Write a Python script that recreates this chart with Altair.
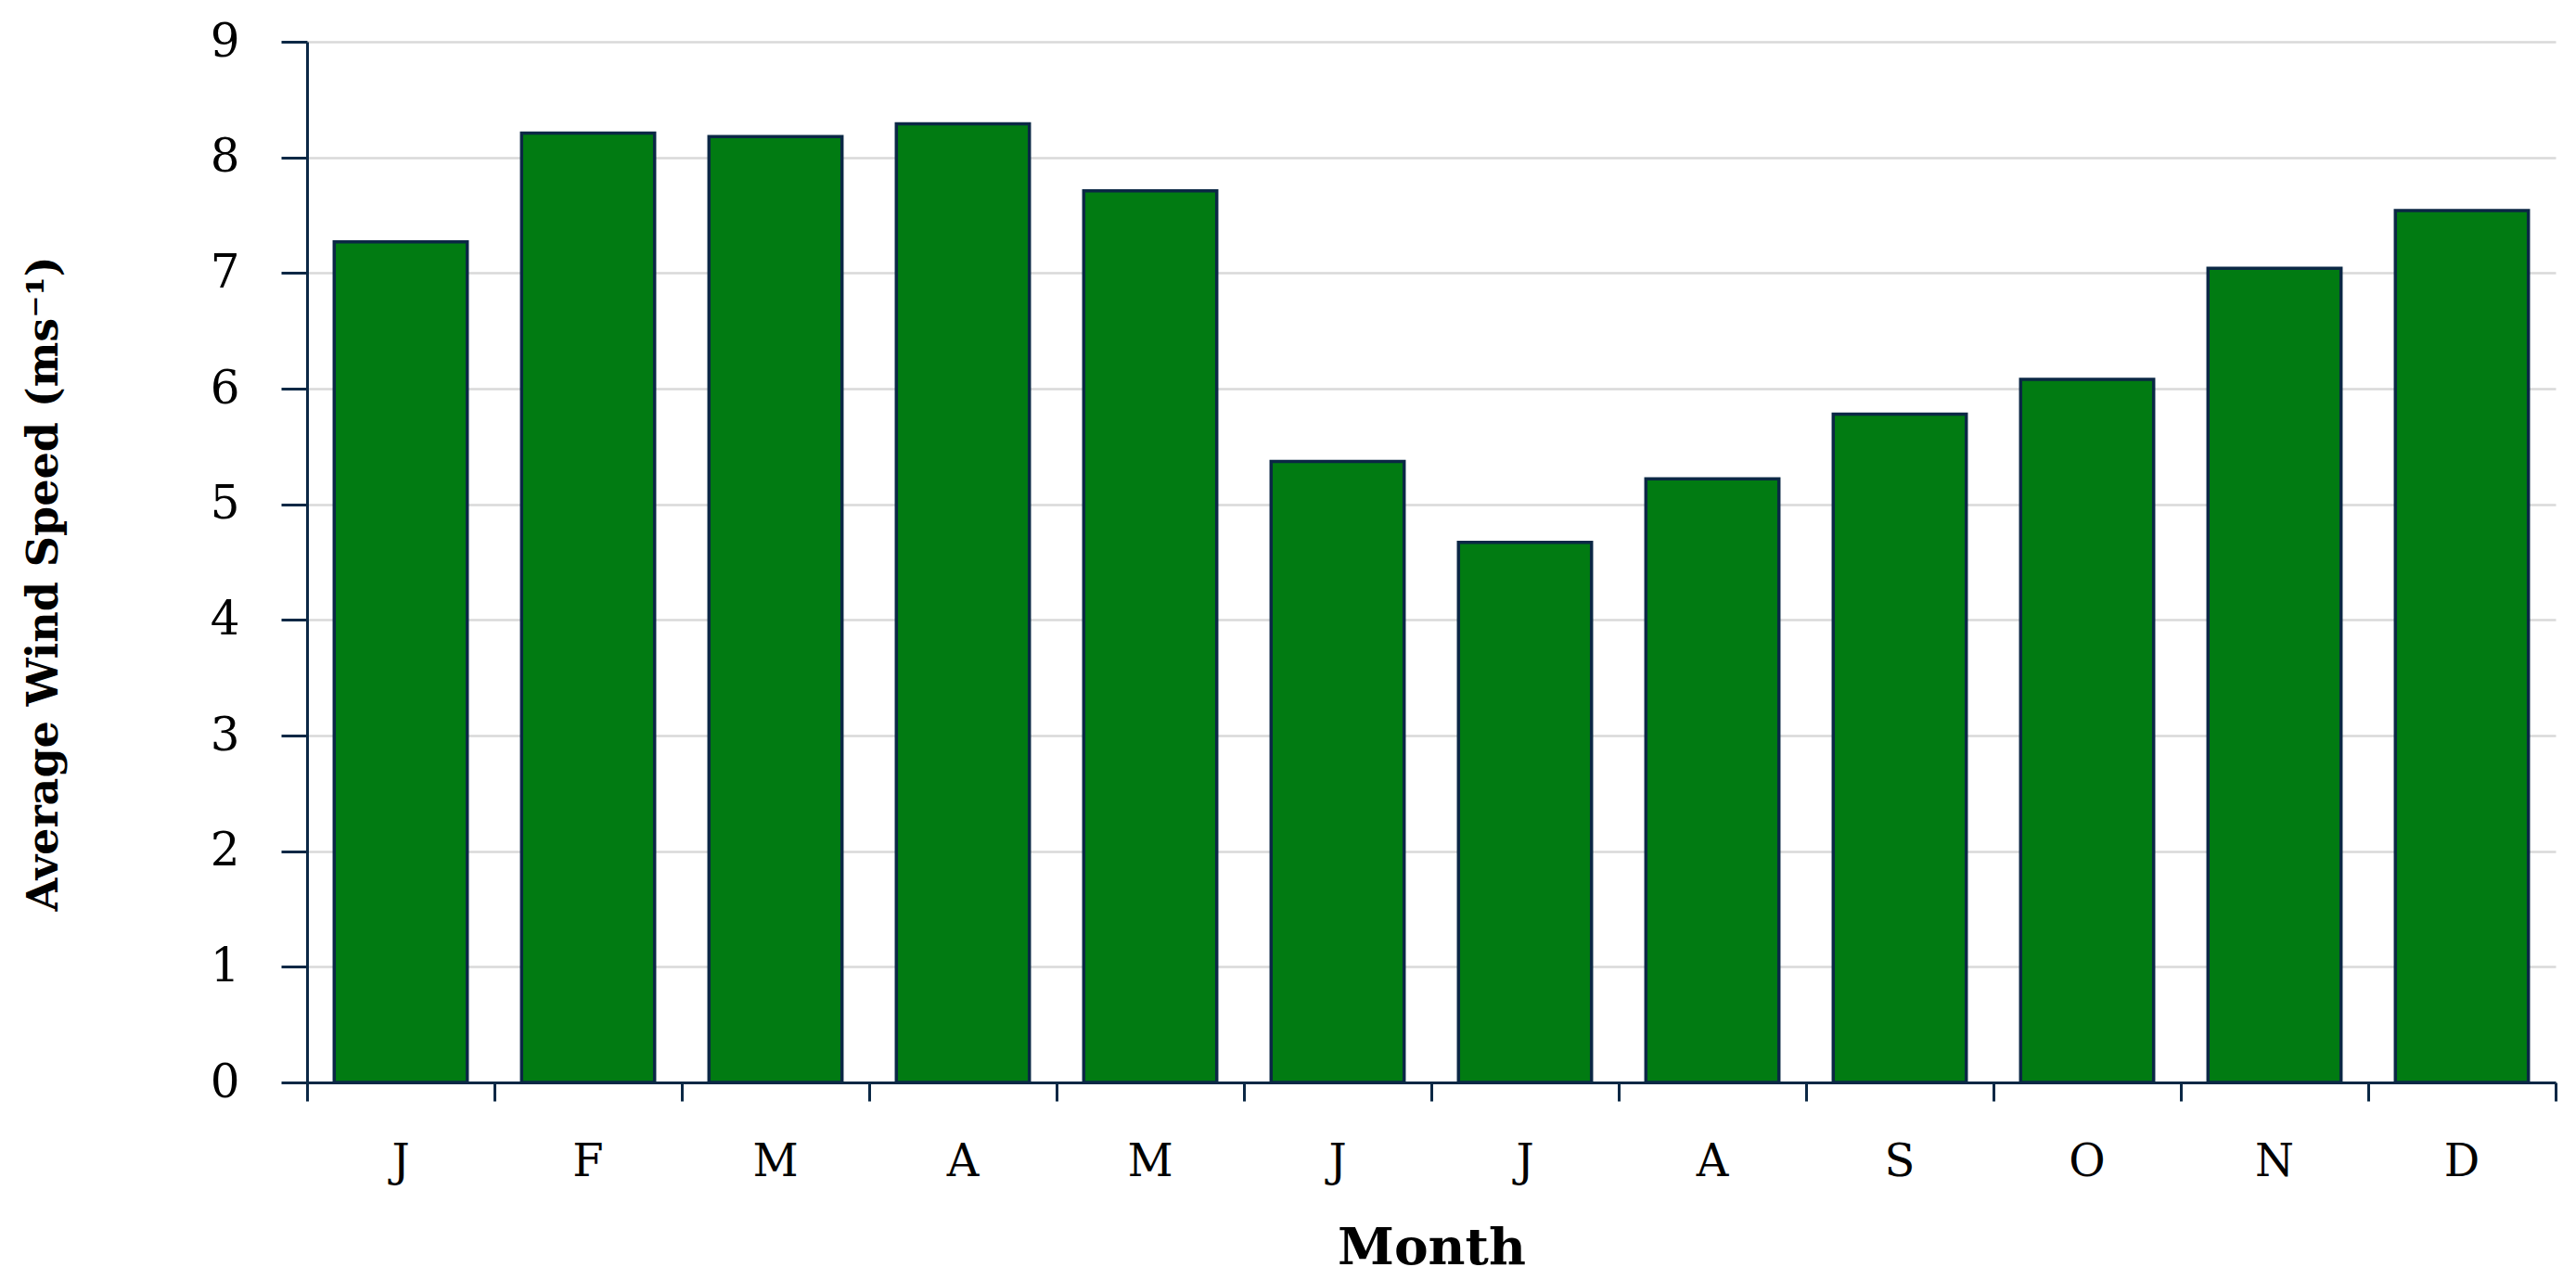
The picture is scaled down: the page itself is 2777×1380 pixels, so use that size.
import altair as alt
import pandas as pd

months = ["Jan", "Feb", "Mar", "Apr", "May", "Jun", "Jul", "Aug", "Sep", "Oct", "Nov", "Dec"]
speeds = [7.27, 8.21, 8.18, 8.29, 7.71, 5.37, 4.67, 5.22, 5.78, 6.08, 7.04, 7.54]
y_ticks = [0, 1, 2, 3, 4, 5, 6, 7, 8, 9]

df = pd.DataFrame({"month": months, "speed": speeds})

AXIS_COLOR = "#0b2845"
FONT = "DejaVu Serif"

chart = alt.Chart(df).mark_bar(
    width=alt.RelativeBandSize(0.71),
    fill="#017b12",
    stroke=AXIS_COLOR,
    strokeWidth=3.5,
).encode(
    x=alt.X(
        "month:N",
        sort=months,
        scale=alt.Scale(paddingInner=0, paddingOuter=0),
        axis=alt.Axis(
            title="Month",
            labelExpr="substring(datum.label, 0, 1)",
            bandPosition=1,
            tickExtra=True,
            grid=False,
            labelAngle=0,
            labelFont=FONT,
            labelFontSize=48,
            labelColor="#000000",
            labelBaseline="alphabetic",
            labelPadding=80,
            tickSize=20,
            tickWidth=3,
            tickColor=AXIS_COLOR,
            domainColor=AXIS_COLOR,
            domainWidth=3,
            titleFont=FONT,
            titleFontSize=55,
            titleFontWeight="bold",
            titleColor="#000000",
            titleBaseline="alphabetic",
            titleY=195,
        ),
    ),
    y=alt.Y(
        "speed:Q",
        scale=alt.Scale(domain=[0, 9], nice=False),
        axis=alt.Axis(
            title="Average Wind Speed (ms⁻¹)",
            values=y_ticks,
            grid=True,
            gridColor="#d9d9d9",
            gridWidth=2.5,
            labelFont=FONT,
            labelFontSize=50,
            labelColor="#000000",
            labelPadding=45,
            tickSize=28,
            tickWidth=3,
            tickColor=AXIS_COLOR,
            domainColor=AXIS_COLOR,
            domainWidth=3,
            titleFont=FONT,
            titleFontSize=46,
            titleFontWeight="bold",
            titleColor="#000000",
            titleAngle=270,
            titleAlign="center",
            titleBaseline="middle",
            titleX=-284,
            titleY=584,
        ),
    ),
).properties(
    width=2424,
    height=1122,
    padding={"left": 323, "top": 37, "right": 10, "bottom": 210},
    autosize="none",
).configure_view(stroke=None)

chart.save("out.html", embed_options={"renderer": "svg", "actions": False})
